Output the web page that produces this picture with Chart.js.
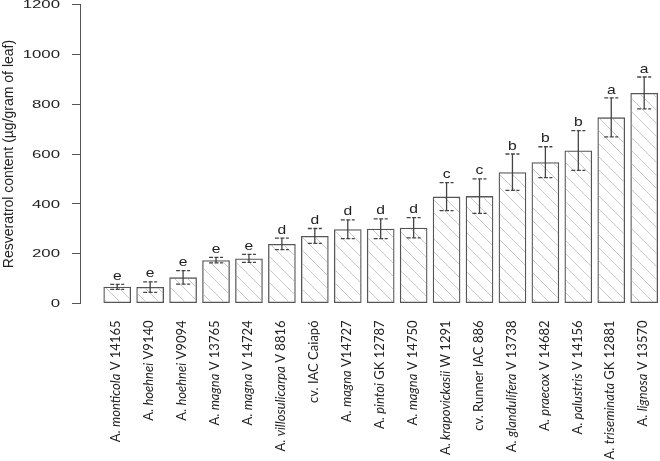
<!DOCTYPE html>
<html>
<head>
<meta charset="utf-8">
<script src="https://cdn.jsdelivr.net/npm/chart.js@4.4.0/dist/chart.umd.min.js"></script>
<style>
  html, body { margin: 0; padding: 0; background: #fff; }
  #wrap { width: 660px; height: 461px; }
</style>
</head>
<body>
<div id="wrap"><canvas id="chart" width="660" height="461"></canvas></div>
<script>
// Accessions, *...* marks the italic species name
const accessions = [
    'A. *monticola* V 14165',
    'A. *hoehnei* V9140',
    'A. *hoehnei* V9094',
    'A. *magna* V 13765',
    'A. *magna* V 14724',
    'A. *villosulicarpa* V 8816',
    'cv. IAC Caiapó',
    'A. *magna* V14727',
    'A. *pintoi* GK 12787',
    'A. *magna* V 14750',
    'A. *krapovickasii* W 1291',
    'cv. Runner IAC 886',
    'A. *glandulifera* V 13738',
    'A. *praecox* V 14682',
    'A. *palustris* V 14156',
    'A. *triseminata* GK 12881',
    'A. *lignosa* V 13570'
];
const resveratrol = [67, 66, 105, 174, 181, 239, 271, 298, 300, 304, 429, 431, 527, 567, 614, 747, 845];
const errors = [10, 21, 27, 11, 16, 23, 30, 38, 40, 41, 56, 69, 73, 62, 80, 78, 64];
const groups = ['e', 'e', 'e', 'e', 'e', 'd', 'd', 'd', 'd', 'd', 'c', 'c', 'b', 'b', 'b', 'a', 'a'];
const yTicks = [0, 200, 400, 600, 800, 1000, 1200];

// Hatched fill like R's density lines
function makeHatch() {
    const s = 13;
    const c = document.createElement('canvas');
    c.width = s; c.height = s;
    const g = c.getContext('2d');
    g.strokeStyle = '#bbbbbb';
    g.lineWidth = 0.8;
    g.beginPath();
    g.moveTo(0, 0); g.lineTo(s, s);
    g.moveTo(-2, s - 2); g.lineTo(2, s + 2);
    g.moveTo(s - 2, -2); g.lineTo(s + 2, 2);
    g.stroke();
    return g.createPattern(c, 'repeat');
}

// Y tick labels (wide, R style)
const yLabelsPlugin = {
    id: 'yLabels',
    afterDraw(chart) {
        const ctx = chart.ctx;
        const y = chart.scales.y;
        ctx.save();
        ctx.fillStyle = '#222';
        ctx.font = '10.5px "Liberation Sans"';
        ctx.textAlign = 'right';
        ctx.textBaseline = 'alphabetic';
        yTicks.forEach(v => {
            ctx.save();
            ctx.translate(y.right - 20, y.getPixelForValue(v) + 3.8);
            ctx.scale(1.6, 1);
            ctx.fillText(String(v), 0, 0);
            ctx.restore();
        });
        ctx.restore();
    }
};

// Error bars with dashed caps and group letters
const errorBarsPlugin = {
    id: 'errorBars',
    afterDatasetsDraw(chart) {
        const ctx = chart.ctx;
        const y = chart.scales.y;
        const meta = chart.getDatasetMeta(0);
        ctx.save();
        ctx.strokeStyle = '#444';
        ctx.fillStyle = '#222';
        ctx.lineWidth = 1.3;
        ctx.font = '13px "Liberation Sans"';
        ctx.textAlign = 'center';
        ctx.textBaseline = 'bottom';
        meta.data.forEach((bar, i) => {
            const top = y.getPixelForValue(resveratrol[i] + errors[i]);
            const bot = y.getPixelForValue(resveratrol[i] - errors[i]);
            ctx.setLineDash([]);
            ctx.beginPath();
            ctx.moveTo(bar.x, top);
            ctx.lineTo(bar.x, bot);
            ctx.stroke();
            ctx.setLineDash([4, 1.5]);
            ctx.beginPath();
            ctx.moveTo(bar.x - 7, top); ctx.lineTo(bar.x + 7, top);
            ctx.moveTo(bar.x - 7, bot); ctx.lineTo(bar.x + 7, bot);
            ctx.stroke();
            ctx.save();
            ctx.translate(bar.x, top - 1.5);
            ctx.scale(1.2, 1);
            ctx.fillText(groups[i], 0, 0);
            ctx.restore();
        });
        ctx.restore();
    }
};

// Rotated category labels with italic species names
const xLabelsPlugin = {
    id: 'xLabels',
    afterDraw(chart) {
        const ctx = chart.ctx;
        const x = chart.scales.x;
        const y = chart.scales.y;
        const fam = '"Lato", sans-serif';
        const size = 13;
        ctx.save();
        ctx.fillStyle = '#222';
        ctx.textBaseline = 'middle';
        ctx.textAlign = 'left';
        accessions.forEach((label, i) => {
            const parts = label.split('*').map((t, k) => ({ text: t, italic: k % 2 === 1 }));
            let total = 0;
            parts.forEach(p => {
                ctx.font = (p.italic ? 'italic ' : '') + size + 'px ' + fam;
                p.w = ctx.measureText(p.text).width;
                total += p.w;
            });
            ctx.save();
            ctx.translate(x.getPixelForValue(i) - 1, y.bottom + 17);
            ctx.rotate(-Math.PI / 2);
            let pos = -total;
            parts.forEach(p => {
                ctx.font = (p.italic ? 'italic ' : '') + size + 'px ' + fam;
                ctx.fillText(p.text, pos, 0);
                pos += p.w;
            });
            ctx.restore();
        });
        ctx.restore();
    }
};

new Chart(document.getElementById('chart'), {
    type: 'bar',
    data: {
        datasets: [{
            data: resveratrol.map((v, i) => ({ x: i, y: v })),
            backgroundColor: makeHatch(),
            borderColor: '#555',
            borderWidth: 1.3,
            borderSkipped: false,
            barPercentage: 0.84,
            categoryPercentage: 1
        }]
    },
    options: {
        responsive: false,
        animation: false,
        layout: { padding: { top: 4.5, right: 0, bottom: 157.5, left: 0 } },
        plugins: { legend: { display: false }, tooltip: { enabled: false } },
        scales: {
            x: { type: 'linear', min: -1.13, max: 16.48, offset: false, display: false },
            y: {
                min: 0,
                max: 1200,
                afterFit: scale => { scale.width = 80; },
                ticks: { stepSize: 200, display: false },
                grid: { drawOnChartArea: false, drawTicks: true, tickLength: 8, color: '#555' },
                border: { display: true, color: '#555', width: 1 },
                title: {
                    display: true,
                    text: 'Resveratrol content (µg/gram of leaf)',
                    color: '#222',
                    font: { family: '"Liberation Sans"', size: 14 },
                    padding: { top: 1, bottom: 0 }
                }
            }
        }
    },
    plugins: [yLabelsPlugin, errorBarsPlugin, xLabelsPlugin]
});
</script>
</body>
</html>
